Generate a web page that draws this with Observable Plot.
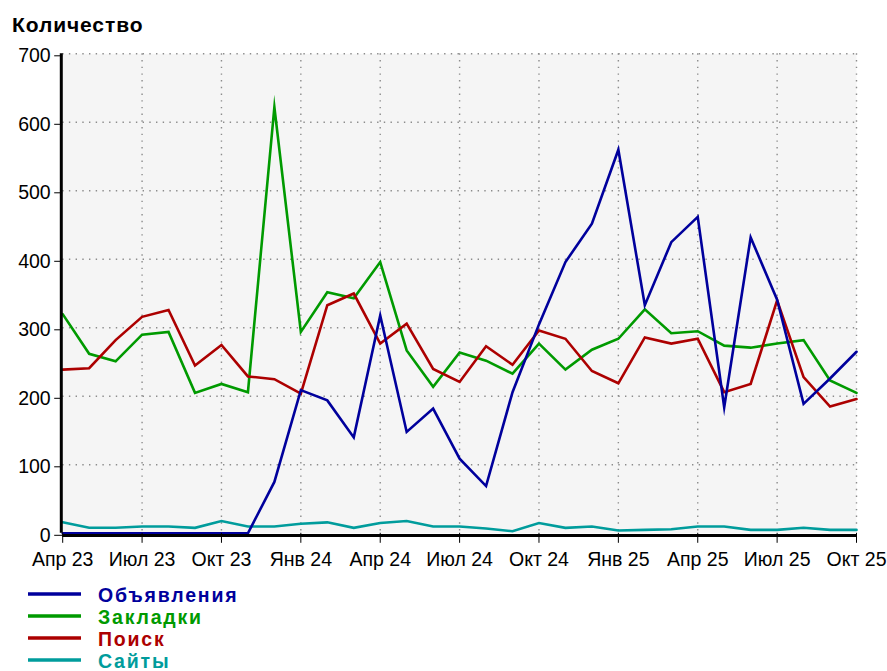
<!DOCTYPE html>
<html>
<head>
<meta charset="utf-8">
<script src="https://cdn.jsdelivr.net/npm/d3@7"></script>
<script src="https://cdn.jsdelivr.net/npm/@observablehq/plot@0.6"></script>
<style>
  body { margin: 0; background: #fff; font-family: "Liberation Sans", Arial, sans-serif; }
  #wrap { position: relative; width: 887px; height: 671px; overflow: hidden; background: #fff; }
  #title { position: absolute; left: 12px; top: 14px; font-weight: bold; font-size: 21px; line-height: 21px; letter-spacing: 0.9px; color: #000; white-space: nowrap; }
  #chart { position: absolute; left: 0; top: 40px; }
  #legend { position: absolute; left: 0; top: 577px; }
</style>
</head>
<body>
<div id="wrap">
  <div id="title">Количество</div>
  <div id="chart"></div>
  <div id="legend"></div>
</div>
<script>
// Months (x categories)
const months = [
  "Апр 23","Май 23","Июн 23","Июл 23","Авг 23","Сен 23","Окт 23","Ноя 23","Дек 23",
  "Янв 24","Фев 24","Мар 24","Апр 24","Май 24","Июн 24","Июл 24","Авг 24","Сен 24","Окт 24","Ноя 24","Дек 24",
  "Янв 25","Фев 25","Мар 25","Апр 25","Май 25","Июн 25","Июл 25","Авг 25","Сен 25","Окт 25"
];
const tickLabels = ["Апр 23","Июл 23","Окт 23","Янв 24","Апр 24","Июл 24","Окт 24","Янв 25","Апр 25","Июл 25","Окт 25"];
const yTicks = [0, 100, 200, 300, 400, 500, 600, 700];

const seriesNames = ["Объявления", "Закладки", "Поиск", "Сайты"];
const seriesColors = ["#00009c", "#009a00", "#ac0000", "#009c9c"];

const objavlenija = [0,0,0,0,0,0,0,0,75,209,194,140,318,148,182,109,69,206,305,396,452,560,333,425,462,184,432,341,189,226,265];
const zakladki    = [320,262,251,290,294,205,218,206,622,294,352,343,396,267,214,264,252,233,277,239,268,284,327,292,295,274,271,277,282,223,205];
const poisk       = [239,241,282,316,326,245,275,229,225,204,333,350,277,306,240,221,273,246,296,284,237,219,286,277,284,206,218,340,228,185,196];
const sajty       = [16,8,8,10,10,8,18,10,10,14,16,8,15,18,10,10,7,3,15,8,10,4,5,6,10,10,5,5,8,5,5];

const seriesValues = [objavlenija, zakladki, poisk, sajty];
const rows = seriesNames.map((name, s) => months.map((m, i) => ({ series: name, idx: i, month: m, value: seriesValues[s][i] })));
const tickIdx = tickLabels.map(l => months.indexOf(l));

const font = "'Liberation Sans', Arial, sans-serif";
const dotted = { stroke: "#8c8c8c", strokeOpacity: 1, strokeWidth: 1.4, strokeDasharray: "1.4,5.3" };

// draw order: Закладки, Поиск, Сайты, Объявления on top
const order = [1, 2, 3, 0];

const chart = Plot.plot({
  width: 887,
  height: 540,
  marginTop: 13.3,
  marginBottom: 47.2,
  marginLeft: 62.2,
  marginRight: 31,
  style: { fontFamily: font, fontSize: "19.5px", background: "transparent", color: "#000", overflow: "visible" },
  x: { type: "linear", domain: [0, months.length - 1], axis: null, label: null },
  y: { domain: [0, 700], axis: null, label: null },
  marks: [
    Plot.frame({ fill: "#f5f5f5", stroke: null }),
    Plot.gridY(yTicks.filter(d => d > 0), dotted),
    Plot.gridX(tickIdx.slice(1), dotted),
    ...order.map(s => Plot.lineY(rows[s], {
      x: "idx", y: "value", stroke: seriesColors[s], strokeWidth: 2.6,
      strokeLinejoin: "miter", strokeMiterlimit: 10
    })),
    Plot.ruleY([0], { dy: 2.2, stroke: "#000", strokeWidth: 3 }),
    Plot.ruleX([0], { y1: 0, y2: 700, dx: -1.4, stroke: "#000", strokeWidth: 3 }),
    Plot.axisY(yTicks, { label: null, tickSize: 8, tickPadding: 4, dy: 2, fontSize: 19.5, tickFormat: d => String(d) }),
    Plot.axisX(tickIdx, { label: null, tickSize: 10, tickPadding: 9, fontSize: 19.5, tickFormat: d => months[d] })
  ]
});
document.getElementById("chart").appendChild(chart);

// Legend
const lg = d3.select("#legend").append("svg").attr("width", 400).attr("height", 94)
  .style("font-family", font);
seriesNames.forEach((name, s) => {
  const cy = 17 + s * 22;
  lg.append("line").attr("x1", 28).attr("x2", 81).attr("y1", cy).attr("y2", cy)
    .attr("stroke", seriesColors[s]).attr("stroke-width", 3.4);
  lg.append("text").attr("x", 98).attr("y", cy + 8)
    .attr("fill", seriesColors[s]).attr("font-size", 19.5).attr("font-weight", "bold")
    .attr("letter-spacing", 1.8).text(name);
});
</script>
</body>
</html>
